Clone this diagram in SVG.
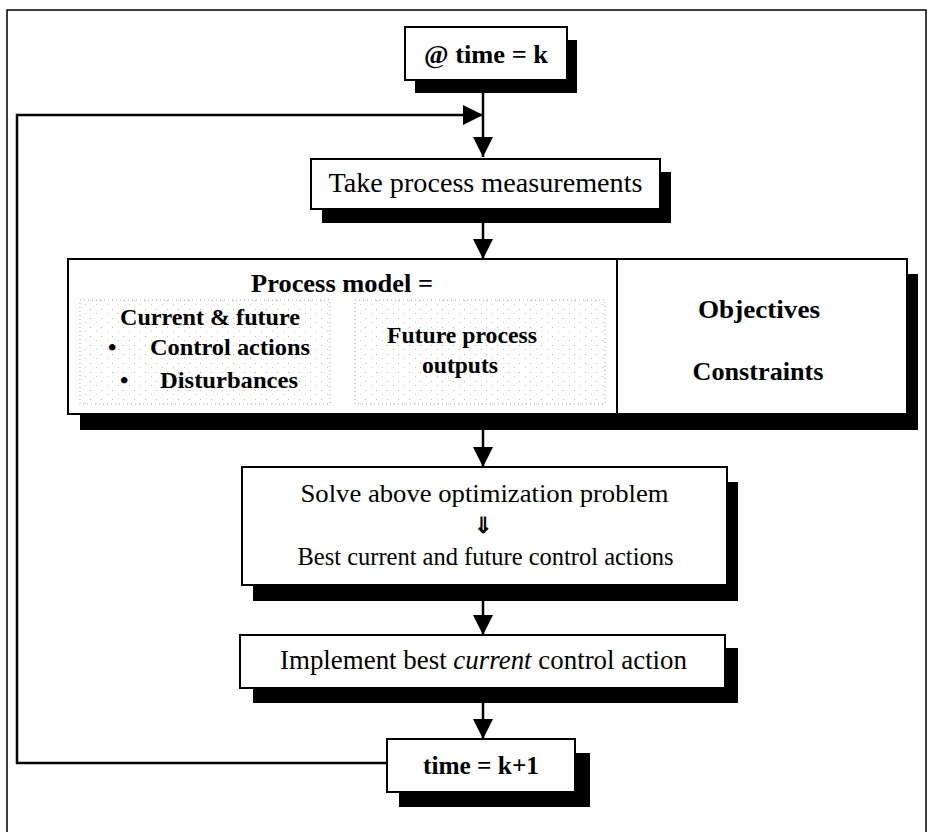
<svg xmlns="http://www.w3.org/2000/svg" width="928" height="832" viewBox="0 0 928 832">
  <style>
    .box{fill:#fff;stroke:#000;stroke-width:2}
    .shadow{fill:#000}
    .t{font-family:"Liberation Serif","Times New Roman",serif;fill:#000}
    .b{font-weight:bold}
    .c{text-anchor:middle}
    .conn{stroke:#000;stroke-width:2.5;fill:none}
    .frame{stroke:#000;stroke-width:1.5;fill:none}
    .dots{fill:url(#speck);stroke:#aaa;stroke-width:1;stroke-dasharray:1 3}
  </style>
  <defs>
    <marker id="ah" markerUnits="userSpaceOnUse" markerWidth="20" markerHeight="20" refX="20" refY="10" orient="auto">
      <path d="M0,0 L20,10 L0,20 z" fill="#000"/>
    </marker>
    <pattern id="speck" width="11" height="9" patternUnits="userSpaceOnUse">
      <rect x="2" y="3" width="1" height="1" fill="#bbb"/>
      <rect x="8" y="7" width="1" height="1" fill="#ccc"/>
    </pattern>
  </defs>

  <path class="frame" d="M7,832 V10 H926 V832"/>

  <g id="connectors">
    <path class="conn" d="M483,80 V157" marker-end="url(#ah)"/>
    <path class="conn" d="M387,763 H17 V115 H483" marker-end="url(#ah)"/>
    <path class="conn" d="M483,209 V259" marker-end="url(#ah)"/>
    <path class="conn" d="M483,414 V467" marker-end="url(#ah)"/>
    <path class="conn" d="M483,585 V635" marker-end="url(#ah)"/>
    <path class="conn" d="M483,688 V739" marker-end="url(#ah)"/>
  </g>

  <g id="start">
    <rect class="shadow" x="415" y="40" width="162" height="53"/>
    <rect class="box" x="405" y="27" width="162" height="53"/>
    <text class="t b c" x="486" y="63" font-size="26" textLength="124" lengthAdjust="spacingAndGlyphs">@ time = k</text>
  </g>

  <g id="measure">
    <rect class="shadow" x="322" y="172" width="349" height="51"/>
    <rect class="box" x="311" y="159" width="349" height="50"/>
    <text class="t c" x="485.5" y="192" font-size="28" textLength="314" lengthAdjust="spacingAndGlyphs">Take process measurements</text>
  </g>

  <g id="model">
    <rect class="shadow" x="80" y="274" width="838" height="156"/>
    <rect class="box" x="68" y="259" width="549" height="155"/>
    <rect class="dots" x="80" y="300" width="250" height="104"/>
    <rect class="dots" x="355" y="300" width="250" height="104"/>
    <text class="t b c" x="342" y="292" font-size="26" textLength="182" lengthAdjust="spacingAndGlyphs">Process model =</text>
    <text class="t b" x="120" y="325" font-size="24" textLength="180" lengthAdjust="spacingAndGlyphs">Current &amp; future</text>
    <text class="t b" x="108" y="355" font-size="24">•</text>
    <text class="t b" x="150" y="355" font-size="24" textLength="160" lengthAdjust="spacingAndGlyphs">Control actions</text>
    <text class="t b" x="120" y="388" font-size="24">•</text>
    <text class="t b" x="160" y="388" font-size="24" textLength="138" lengthAdjust="spacingAndGlyphs">Disturbances</text>
    <text class="t b c" x="462" y="343" font-size="24" textLength="150" lengthAdjust="spacingAndGlyphs">Future process</text>
    <text class="t b c" x="460" y="373" font-size="24" textLength="76" lengthAdjust="spacingAndGlyphs">outputs</text>
  </g>

  <g id="objectives">
    <rect class="box" x="617" y="259" width="290" height="155"/>
    <text class="t b c" x="759" y="318" font-size="26" textLength="122" lengthAdjust="spacingAndGlyphs">Objectives</text>
    <text class="t b c" x="758" y="380" font-size="26" textLength="131" lengthAdjust="spacingAndGlyphs">Constraints</text>
  </g>

  <g id="solve">
    <rect class="shadow" x="253" y="482" width="485" height="119"/>
    <rect class="box" x="242" y="467" width="485" height="118"/>
    <text class="t c" x="484.5" y="502" font-size="26" textLength="368" lengthAdjust="spacingAndGlyphs">Solve above optimization problem</text>
    <text class="t b c" x="483" y="533" font-size="22">⇓</text>
    <text class="t c" x="485.5" y="565" font-size="26" textLength="376" lengthAdjust="spacingAndGlyphs">Best current and future control actions</text>
  </g>

  <g id="implement">
    <rect class="shadow" x="253" y="648" width="485" height="55"/>
    <rect class="box" x="240" y="635" width="485" height="53"/>
    <text class="t" x="280" y="669" font-size="27" textLength="407" lengthAdjust="spacingAndGlyphs">Implement best <tspan font-style="italic">current</tspan> control action</text>
  </g>

  <g id="next">
    <rect class="shadow" x="399" y="753" width="191" height="54"/>
    <rect class="box" x="387" y="739" width="188" height="53"/>
    <text class="t b c" x="481" y="774" font-size="25" textLength="116" lengthAdjust="spacingAndGlyphs">time = k+1</text>
  </g>
</svg>
